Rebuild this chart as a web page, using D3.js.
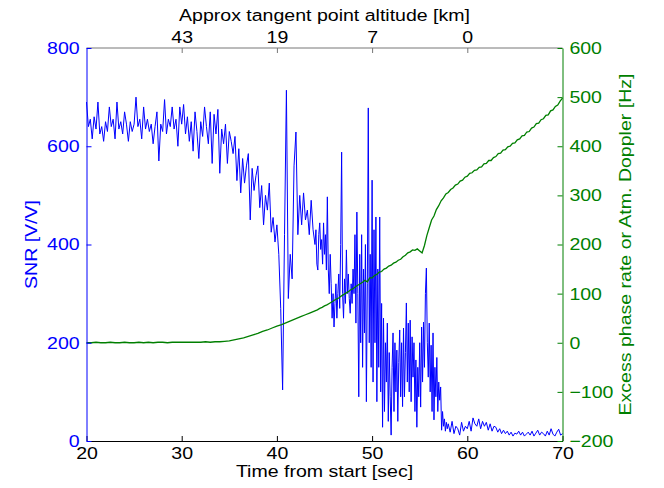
<!DOCTYPE html>
<html><head><meta charset="utf-8">
<script src="https://cdn.jsdelivr.net/npm/d3@7/dist/d3.min.js"></script>
<style>body{margin:0;background:#fff}svg text{font-family:"Liberation Sans",Arial,sans-serif}</style>
</head><body><svg id="c" width="664" height="488"></svg>
<script>
// SNR series in three segments: [start time, step (s)] + values
const snrA_start = 20, snrA_step = 0.2;
const snrA = [
690,640,655,615,660,635,690,625,640,610,
650,630,680,640,655,615,690,635,650,625,
670,645,610,650,630,645,700,640,655,615,
680,635,655,630,645,605,640,670,570,645,
630,695,625,655,640,680,635,655,600,680,
645,685,625,660,610,650,590,670,630,575,
650,620,680,640,605,670,565,665,625,675,
545,635,605,645,565,630,610,585,620,530,
595,505,575,525,560,585,450,555,510,540,
560,475,520,440,500,470,525,425,455,405,
440,380,270,104,420,714,290,380,330,560,
629,420,500,440,505,450,470,420,490,430];
const snrB_start = 44, snrB_step = 0.1;
const snrB = [
400,430,360,348,420,444,390,410,360,444,
380,420,348,497,348,300,380,320,250,300,
232,280,320,250,300,340,270,400,588,300,
250,330,280,389,300,340,290,260,320,280,
350,300,420,240,466,300,90,380,200,420,
150,350,220,400,80,320,678,200,380,150,
531,120,430,200,456,80,350,150,456,100,
280,28,250,60,200,120,240,40,180,90,
12,150,220,60,200,100,185,40,160,226,
90,200,70,230,90,180,281,120,240,100,
246,80,212,130,200,60,165,28,150,90,
200,69,232,120,242,150,300,352,200,130,
240,100,195,60,220,43,150,90,170,60,
120,83,110,22,60,30,45,20,38,25];
const snrC_start = 58, snrC_step = 0.2;
const snrC = [
35,18,40,15,30,25,12,38,20,30,
25,40,20,47,35,30,45,25,40,30,
38,22,35,20,30,28,18,25,15,22,
15,20,12,18,10,16,14,20,12,18,
10,14,18,12,20,10,16,22,12,18,
15,10,20,12,25,14,10,18,24,12,
15];
// Excess phase rate series
const phaseTime = [20,20.5,21,21.5,22,22.5,23,23.5,24,24.5,25,25.5,26,26.5,27,27.5,28,28.5,29,29.5,30,30.5,31,31.5,32,32.5,33,33.5,34,34.5,35,35.5,36,36.5,37,37.5,38,38.5,39,39.5,40,40.5,41,41.5,42,42.5,43,43.5,
44,44.25,44.5,44.75,45,45.25,45.5,45.75,46,46.25,46.5,46.75,47,47.25,47.5,47.75,48,48.25,48.5,48.75,49,49.25,49.5,49.75,50,50.25,50.5,50.75,51,51.25,51.5,51.75,52,52.25,52.5,52.75,53,53.25,53.5,53.75,54,54.25,54.5,54.75,55,55.25,55.5,55.75,56,56.25,56.5,56.75,57,57.25,57.5,57.75,58,58.25,58.5,58.75,59,59.25,59.5,59.75,60,60.25,60.5,60.75,61,61.25,61.5,61.75,62,62.25,62.5,62.75,63,63.25,63.5,63.75,64,64.25,64.5,64.75,65,65.25,65.5,65.75,66,66.25,66.5,66.75,67,67.25,67.5,67.75,68,68.25,68.5,68.75,69,69.25,69.5,69.75,70];
const phaseValues = [0,0,1,0,0,1,0,0,1,0,0,1,0,1,0,1,1,0,1,1,1,1,1,1,1,2,1,2,2,3,4,6,8,10,13,16,19,23,26,30,34,37,41,45,49,53,57,61,
65,67,70,72,75,77,80,83,86,89,91,95,98,101,104,108,110,114,117,120,123,127,124,132,132,137,139,144,145,150,152,156,158,162,164,168,170,175,178,183,185,189,188,191,187,183,198,218,234,250,258,271,279,289,295,303,306,312,315,321,323,329,331,337,339,345,346,351,352,357,358,364,365,371,371,377,379,385,386,392,393,399,400,406,407,413,415,421,422,429,430,437,439,446,447,454,456,463,464,472,474,481,484,492,498];
const timeTicks = [20,30,40,50,60,70];
const snrTicks = [0,200,400,600,800];
const phaseTicks = [-200,-100,0,100,200,300,400,500,600];
const altTickTimes = [30,40,50,60];
const altTickLabels = ["43","19","7","0"];

const svg = d3.select("#c");
const L=86.5, R=562.5, T=48, B=441;
const BLUE="#0000ff", GREEN="#007f00";
const SX = 1.15;
const x = d3.scaleLinear().domain([20,70]).range([L,R]);
const yL = d3.scaleLinear().domain([0,800]).range([B,T]);
const yR = d3.scaleLinear().domain([-200,600]).range([B,T]);
const fmt = d => d<0 ? "\u2212"+Math.abs(d) : String(d);

const seg = (arr,s,st) => arr.map((v,i)=>({t:+(s+i*st).toFixed(2), v}));
const snr = [...seg(snrA,snrA_start,snrA_step), ...seg(snrB,snrB_start,snrB_step), ...seg(snrC,snrC_start,snrC_step)];
const ph = phaseTime.map((t,i)=>({t, v:phaseValues[i]}));

svg.append("path").datum(snr).attr("fill","none").attr("stroke",BLUE).attr("stroke-width",1)
  .attr("stroke-linejoin","round")
  .attr("d", d3.line().x(d=>x(d.t)).y(d=>yL(d.v)));
svg.append("path").datum(ph).attr("fill","none").attr("stroke",GREEN).attr("stroke-width",1.3)
  .attr("d", d3.line().x(d=>x(d.t)).y(d=>yR(d.v)));

const fs = "17px";
const gb = svg.append("g").attr("transform",`translate(0,${B})`)
  .call(d3.axisBottom(x).tickValues(timeTicks).tickSizeInner(-5).tickSizeOuter(0).tickPadding(6));
const gt = svg.append("g").attr("transform",`translate(0,${T})`)
  .call(d3.axisTop(x).tickValues(altTickTimes).tickFormat((d,i)=>altTickLabels[i]).tickSizeInner(-5).tickSizeOuter(0).tickPadding(5));
gt.select(".domain").attr("d",`M${L},0H${R}`).attr("stroke","#777");
gt.selectAll(".tick line").attr("stroke","#777");
const gl = svg.append("g").attr("transform",`translate(${L},0)`)
  .call(d3.axisLeft(yL).tickValues(snrTicks).tickSizeInner(-5).tickSizeOuter(0).tickPadding(6));
const gr = svg.append("g").attr("transform",`translate(${R},0)`)
  .call(d3.axisRight(yR).tickValues(phaseTicks).tickFormat(fmt).tickSizeInner(-5).tickSizeOuter(0).tickPadding(6));

[gb,gt,gl,gr].forEach(g=>g.selectAll("text").attr("font-size",fs)
  .attr("font-family","Liberation Sans, Arial, sans-serif").attr("transform",`scale(${SX},1)`));
gb.selectAll("text").attr("fill","#000");
gt.selectAll("text").attr("fill","#000");
gl.selectAll("text").attr("fill",BLUE);
gl.select(".domain").attr("stroke",BLUE);
gl.selectAll(".tick line").attr("stroke",BLUE);
gr.selectAll("text").attr("fill",GREEN);
gr.select(".domain").attr("stroke",GREEN);
gr.selectAll(".tick line").attr("stroke",GREEN);
gb.select(".domain").attr("stroke","#000");

svg.append("text").attr("transform",`translate(${(L+R)/2},477) scale(${SX},1)`).attr("text-anchor","middle")
  .attr("font-size",fs).attr("fill","#000").text("Time from start [sec]");
svg.append("text").attr("transform",`translate(${(L+R)/2},21) scale(${SX},1)`).attr("text-anchor","middle")
  .attr("font-size",fs).attr("fill","#000").text("Approx tangent point altitude [km]");
svg.append("text").attr("transform",`translate(37,${(T+B)/2}) rotate(-90) scale(${SX},1)`).attr("text-anchor","middle")
  .attr("font-size",fs).attr("fill",BLUE).text("SNR [V/V]");
svg.append("text").attr("transform",`translate(631,${(T+B)/2}) rotate(-90) scale(${SX},1)`).attr("text-anchor","middle")
  .attr("font-size",fs).attr("fill",GREEN).text("Excess phase rate or Atm. Doppler [Hz]");
</script></body></html>
